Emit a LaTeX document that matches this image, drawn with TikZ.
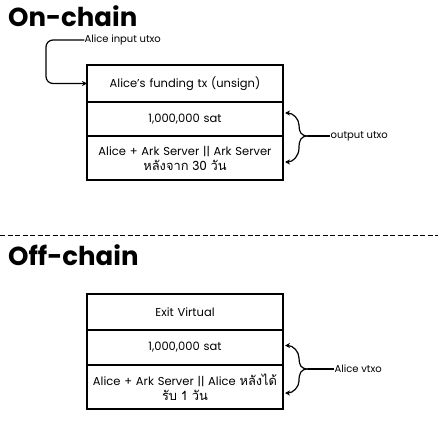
\documentclass[tikz,border=0pt]{standalone}
\usepackage{fontspec}
\setmainfont{Poppins}
\newfontfamily\thaifont[Script=Thai,Scale=1.12]{Loma}
\usetikzlibrary{arrows.meta,positioning,calc}
\tikzset{
  row/.style={draw,line width=1.3pt,outer sep=0pt,inner sep=0pt,minimum width=196pt,text width=190pt,align=center,font=\fontsize{11.5}{15}\selectfont},
  wire/.style={line width=1.2pt,line cap=round,-{Stealth[length=5pt,width=5pt]}},
  tag/.style={font=\fontsize{10}{11}\selectfont,inner sep=0.5pt,anchor=west},
  heading/.style={font=\fontsize{26}{28}\selectfont\bfseries,inner sep=0pt,anchor=base west}
}
\newcommand{\fork}[4]{% tip, top end, bottom end, x of the bend
  \draw[wire] (#1) .. controls ($(#1)+(-7,0)$) and ($(#4|-#1)+(0,-4)$) .. ($(#4|-#1)+(0,-11)$)
     .. controls ($(#4|-#2)+(0,6)$) and ($(#2)+(8,0)$) .. (#2);
  \draw[wire] (#1) .. controls ($(#1)+(-7,0)$) and ($(#4|-#1)+(0,4)$) .. ($(#4|-#1)+(0,12)$)
     .. controls ($(#4|-#3)+(0,-6)$) and ($(#3)+(8,0)$) .. (#3);}

\begin{document}
\begin{tikzpicture}[x=1pt,y=-1pt]
  \useasboundingbox (0,0) rectangle (438,422);
  % on-chain
  \node[heading] (onc) at (8,27) {On-chain};
  \node[row,minimum height=37pt] (fund) at (185,83.5) {Alice’s funding tx (unsign)};
  \node[row,minimum height=34pt,below=0pt of fund] (amt1) {1,000,000 sat};
  \node[row,minimum height=44pt,below=0pt of amt1] (cond1) {Alice + Ark Server || Ark Server\\{\thaifont หลังจาก 30 วัน}};
  \node[tag] (inlbl) at (84,40) {Alice input utxo};
  \draw[wire,rounded corners=7pt] (inlbl.west) -- ++(-38,0) |- (fund.west);
  \coordinate (t1) at (308,136);
  \coordinate (b1) at (299,136);
  \coordinate (u1) at ($(amt1.east)+(2,-6)$);
  \coordinate (d1) at ($(cond1.east)+(2,4)$);
  \node[tag] (out1) at (330,136) {output utxo};
  \draw[line width=1.2pt] (t1) -- (out1.west);
  \fork{t1}{u1}{d1}{b1}
  % separator
  \draw[line width=0.9pt,dash pattern=on 5pt off 2.5pt] (0,235) -- (438,235);
  % off-chain
  \node[heading] (offc) at (8,265) {Off-chain};
  \node[row,minimum height=36pt] (exitv) at (185,312) {Exit Virtual};
  \node[row,minimum height=35pt,below=0pt of exitv] (amt2) {1,000,000 sat};
  \node[row,minimum height=44pt,below=0pt of amt2] (cond2) {Alice + Ark Server || Alice {\thaifont หลังได้}\\{\thaifont รับ 1 วัน}};
  \coordinate (t2) at (308,369);
  \coordinate (b2) at (299,369);
  \coordinate (u2) at ($(amt2.east)+(2,-2)$);
  \coordinate (d2) at ($(cond2.east)+(2,6)$);
  \node[tag] (out2) at (334,369) {Alice vtxo};
  \draw[line width=1.2pt] (t2) -- (out2.west);
  \fork{t2}{u2}{d2}{b2}
\end{tikzpicture}
\end{document}
